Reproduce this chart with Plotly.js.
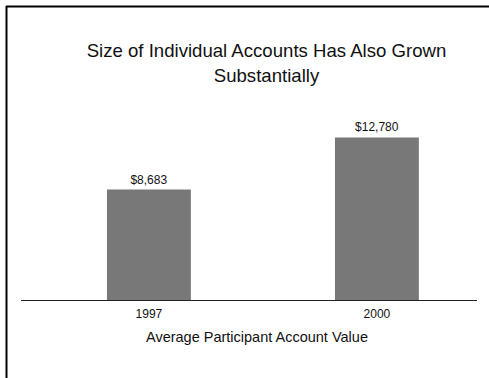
<!DOCTYPE html>
<html>
<head>
<meta charset="utf-8">
<script src="https://cdn.plot.ly/plotly-3.0.1.min.js"></script>
<style>
  html, body { margin: 0; padding: 0; background: #fff; }
  #chart { width: 489px; height: 378px; }
</style>
</head>
<body>
<div id="chart"></div>
<script>
const years = ["1997", "2000"];
const accountValues = [8683, 12780];
const valueLabels = ["$8,683", "$12,780"];
const chartTitle = "Size of Individual Accounts Has Also Grown<br>Substantially";
const xTitle = "Average Participant Account Value";

const FONT = "Liberation Sans, Arial, Helvetica, sans-serif";

const trace = {
  type: "bar",
  x: years,
  y: accountValues,
  text: valueLabels,
  textposition: "outside",
  cliponaxis: false,
  textfont: { family: FONT, size: 12, color: "#111" },
  marker: { color: "#787878", line: { width: 0 } },
  width: 0.368,
  hoverinfo: "none"
};

const layout = {
  width: 489,
  height: 378,
  margin: { l: 21, r: 12, t: 100, b: 78 },
  paper_bgcolor: "#fff",
  plot_bgcolor: "#fff",
  showlegend: false,
  font: { family: FONT, color: "#111" },
  title: {
    text: chartTitle,
    font: { family: FONT, size: 18.6, color: "#111" },
    x: 0.545, xanchor: "center",
    y: 0.848, yanchor: "middle"
  },
  xaxis: {
    type: "category",
    range: [-0.561, 1.439],
    showline: true, linecolor: "#222", linewidth: 1,
    showgrid: false, zeroline: false, ticks: "",
    ticklabelstandoff: 3,
    tickfont: { family: FONT, size: 12, color: "#111" },
    fixedrange: true
  },
  yaxis: {
    range: [0, 15720],
    visible: false,
    showgrid: false, zeroline: false,
    fixedrange: true
  },
  annotations: [{
    text: xTitle,
    xref: "paper", yref: "paper",
    x: (257 - 21) / 456, y: (300 - 337) / 200,
    xanchor: "center", yanchor: "middle",
    showarrow: false,
    font: { family: FONT, size: 14.5, color: "#111" }
  }],
  shapes: [
    { type: "line", xref: "paper", yref: "paper",
      x0: (6.5 - 21) / 456, x1: (6.5 - 21) / 456, y0: (300 - 6) / 200, y1: (300 - 380) / 200,
      line: { color: "#000", width: 2 } },
    { type: "line", xref: "paper", yref: "paper",
      x0: (6 - 21) / 456, x1: (492 - 21) / 456, y0: (300 - 6.5) / 200, y1: (300 - 6.5) / 200,
      line: { color: "#000", width: 2 } }
  ]
};

Plotly.newPlot("chart", [trace], layout, { displayModeBar: false, staticPlot: true });
</script>
</body>
</html>
